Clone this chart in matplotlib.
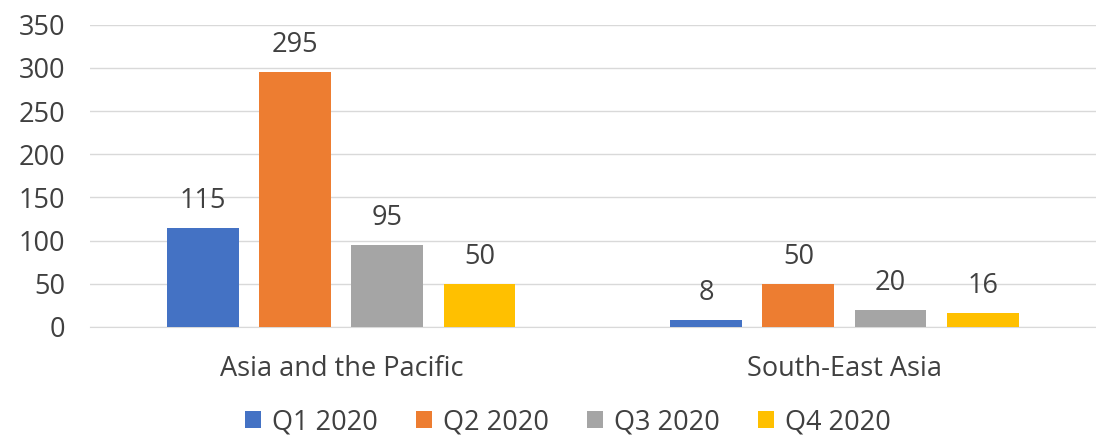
import matplotlib.pyplot as plt
import numpy as np

categories = ['Asia and the Pacific', 'South-East Asia']
series = ['Q1 2020', 'Q2 2020', 'Q3 2020', 'Q4 2020']
values = [
    [115, 8],
    [295, 50],
    [95, 20],
    [50, 16],
]
colors = ['#4472C4', '#ED7D31', '#A5A5A5', '#FFC000']

plt.rcParams['font.family'] = ['Open Sans', 'DejaVu Sans']

fig = plt.figure(figsize=(10.96, 4.43), dpi=100)
ax = fig.add_axes([0.082, 0.262, 0.918, 0.682])

x = np.arange(len(categories))
width = 0.143
step = 0.183
for i, (name, vals) in enumerate(zip(series, values)):
    pos = x + (i - 1.5) * step
    bars = ax.bar(pos, vals, width, color=colors[i], label=name, zorder=3)
    for b, v in zip(bars, vals):
        ax.text(b.get_x() + b.get_width() / 2, v + 15, str(v),
                ha='center', va='bottom', fontsize=19.5, color='#404040')

ax.set_xlim(-0.5, 1.5)
ax.set_ylim(0, 350)
ax.set_yticks(range(0, 351, 50))
ax.set_xticks(x)
ax.set_xticklabels(categories)
ax.tick_params(axis='both', length=0, labelsize=19.5, labelcolor='#404040')
ax.tick_params(axis='x', pad=20)
ax.tick_params(axis='y', pad=18)
ax.grid(axis='y', color='#D9D9D9', linewidth=1, zorder=0)
for s in ['top', 'right', 'left']:
    ax.spines[s].set_visible(False)
ax.spines['bottom'].set_color('#D9D9D9')

ax.legend(loc='lower center', bbox_to_anchor=(0.475, -0.425), ncol=4, frameon=False,
          fontsize=19.5, handlelength=0.6, handleheight=0.6, columnspacing=1.4,
          handletextpad=0.4, labelcolor='#404040', borderpad=0.2)

fig.savefig('out.png')
